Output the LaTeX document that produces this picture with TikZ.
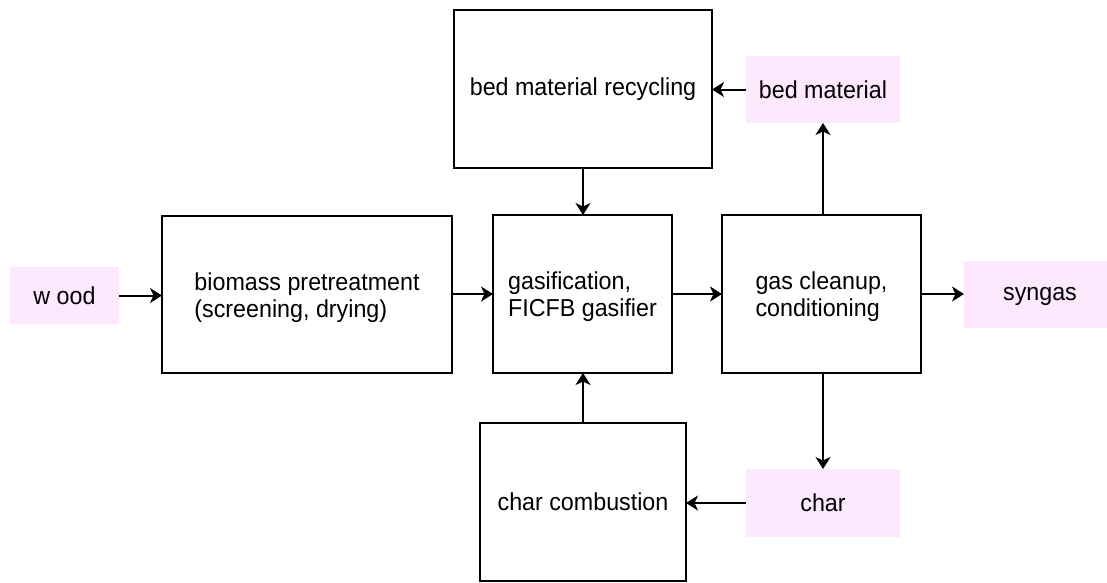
\documentclass[tikz,border=0pt]{standalone}
\usepackage{fontspec}
\setmainfont{Liberation Sans}[FakeStretch=0.95]
\usetikzlibrary{arrows.meta}
\definecolor{pinkbg}{RGB}{253,232,253}
\newcommand{\upstrut}{\rule{0pt}{24pt}}
\begin{document}
\begin{tikzpicture}[x=1pt,y=-1pt,
  every node/.style={font=\fontsize{24.5}{27}\selectfont, inner sep=0pt, outer sep=0pt},
  procbox/.style={draw=black, line width=2pt, fill=white},
  streambox/.style={fill=pinkbg},
  flow/.style={line width=2pt, -{Stealth[length=12pt,width=15pt,inset=3.5pt]}}
]
\useasboundingbox (0,0) rectangle (1107,582);
% stream boxes
\node[streambox, minimum width=109pt, minimum height=57pt] (wood) at (64.5,295.5) {w ood};
\node[streambox, minimum width=154pt, minimum height=67pt] (bed) at (823,89.5) {bed material};
\node[streambox, minimum width=154pt, minimum height=68pt] (char) at (823,503) {char};
\node[streambox, minimum width=143pt, minimum height=67pt] (syn) at (1035.5,294.5) {\hspace{9pt}\vphantom{d}syngas};
% process boxes
\node[procbox, minimum width=290pt, minimum height=157pt, align=left] (pre) at (307,294.5) {\upstrut biomass pretreatment\\(screening, drying)};
\node[procbox, minimum width=179pt, minimum height=158pt, align=left] (gas) at (582.5,294) {\upstrut gasification,\\FICFB gasifier};
\node[procbox, minimum width=199pt, minimum height=158pt, align=left] (clean) at (821.5,294) {\upstrut gas cleanup,\\conditioning};
\node[procbox, minimum width=258pt, minimum height=158pt] (rec) at (583,89) {bed material recycling};
\node[procbox, minimum width=206pt, minimum height=158pt] (comb) at (583,502) {char combustion};
% connectors
\draw[flow] (wood.east) -- (wood.east -| pre.west);
\draw[flow] (pre.east |- gas.west) -- (gas.west);
\draw[flow] (gas.east) -- (clean.west);
\draw[flow] (clean.east) -- (clean.east -| syn.west);
\draw[flow] (rec.south) -- (rec.south |- gas.north);
\draw[flow] (comb.north) -- (comb.north |- gas.south);
\draw[flow] (clean.north -| bed.south) -- (bed.south);
\draw[flow] (clean.south -| char.north) -- (char.north);
\draw[flow] (bed.west) -- (bed.west -| rec.east);
\draw[flow] (char.west) -- (char.west -| comb.east);
\end{tikzpicture}
\end{document}
